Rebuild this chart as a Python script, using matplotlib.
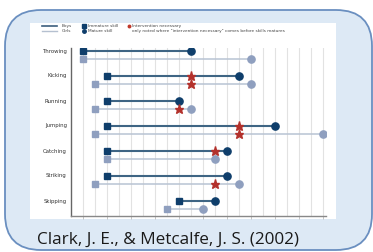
import numpy as np
import matplotlib
matplotlib.use("Agg")
import matplotlib.pyplot as plt
from matplotlib.patches import FancyBboxPatch, Rectangle

# data: age grid index (0.5-year steps)
skills = ["Throwing", "Kicking", "Running", "Jumping", "Catching", "Striking", "Skipping"]
boys_immature = [0, 2, 2, 2, 2, 2, 8]
boys_mature = [9, 13, 8, 16, 12, 12, 11]
boys_interv = [None, 9, None, 13, 11, None, None]
girls_immature = [0, 1, 1, 1, 2, 1, 7]
girls_mature = [14, 14, 9, 20, 11, 13, 10]
girls_interv = [None, 9, 8, 13, None, 11, None]
citation = "Clark, J. E., & Metcalfe, J. S. (2002)"

W, H = 373, 252
fig = plt.figure(figsize=(W / 100, H / 100), dpi=100)

# slide background
bg = fig.add_axes([0, 0, 1, 1])
bg.set_xlim(0, W)
bg.set_ylim(H, 0)
bg.axis("off")
bg.add_patch(FancyBboxPatch((5 + 36, 10 + 36), 367 - 72, 240 - 72,
                            boxstyle="round,pad=36", fc="#dde9f5", ec="#6a8fc0", lw=1.3))
bg.add_patch(Rectangle((30, 23), 306, 196, fc="white", ec="none"))
bg.text(37, 240, citation, fontsize=12.3, family="Open Sans", color="#1a1a1a", va="center")

# legend (tiny text)
lc = "#444444"
bg.plot([42, 57], [26, 26], color="#3d5f7e", lw=1.2)
bg.plot([42, 57], [31, 31], color="#b5c0d0", lw=1.0)
bg.text(62, 26, "Boys", fontsize=3.1, color=lc, va="center")
bg.text(62, 31, "Girls", fontsize=3.1, color=lc, va="center")
bg.plot(84, 26, "s", color="#0f3e6b", ms=2.3)
bg.plot(84, 31, "o", color="#0f3e6b", ms=2.5)
bg.text(88, 26, "Immature skill", fontsize=3.1, color=lc, va="center")
bg.text(88, 31, "Mature skill", fontsize=3.1, color=lc, va="center")
bg.plot(129, 26, "o", color="#c0392b", ms=1.8)
bg.text(132, 26, "Intervention necessary", fontsize=3.1, color=lc, va="center")
bg.text(132, 31, "only noted where \"intervention necessary\" comes before skills matures",
        fontsize=3.1, color=lc, va="center")

# chart
ax = fig.add_axes([71 / W, 1 - 216 / H, (326 - 71) / W, (216 - 48) / H])
ax.set_facecolor("none")
ax.set_xlim(-1, 20.25)
ax.set_ylim(6.45, -0.27)
for g in range(21):
    ax.axvline(g, color="#e2e2e2", lw=0.8, zorder=0)

boy_c, boy_line = "#0f3e6b", "#3f6584"
girl_c, girl_line = "#8f9fbf", "#b8c3d3"
star_c = "#b3312c"
off = 0.17
for i in range(len(skills)):
    yb, yg = i - off, i + off
    ax.plot([boys_immature[i], boys_mature[i]], [yb, yb], color=boy_line, lw=1.5, zorder=2)
    ax.plot([girls_immature[i], girls_mature[i]], [yg, yg], color=girl_line, lw=1.1, zorder=2)
    ax.plot(boys_immature[i], yb, "s", color=boy_c, ms=4.3, zorder=3)
    ax.plot(boys_mature[i], yb, "o", color=boy_c, ms=5.2, zorder=3)
    ax.plot(girls_immature[i], yg, "s", color=girl_c, ms=4.3, zorder=3)
    ax.plot(girls_mature[i], yg, "o", color=girl_c, ms=5.2, zorder=3)
    if boys_interv[i] is not None:
        ax.plot(boys_interv[i], yb, "*", color=star_c, ms=6.5, zorder=4)
    if girls_interv[i] is not None:
        ax.plot(girls_interv[i], yg, "*", color=star_c, ms=6.5, zorder=4)

ax.set_yticks([i - off for i in range(len(skills))])
ax.set_yticklabels(skills, fontsize=3.9, color="#333333")
ax.tick_params(axis="y", length=0, pad=3)
ax.set_xticks(range(0, 21, 2))
ax.set_xticklabels([])
ax.tick_params(axis="x", length=2, color="#bbbbbb", width=0.6)
for s in ["top", "right"]:
    ax.spines[s].set_visible(False)
ax.spines["left"].set_color("#666666")
ax.spines["bottom"].set_color("#888888")
ax.spines["left"].set_linewidth(1.0)
ax.spines["bottom"].set_linewidth(1.0)

fig.savefig("out.png", dpi=100)
